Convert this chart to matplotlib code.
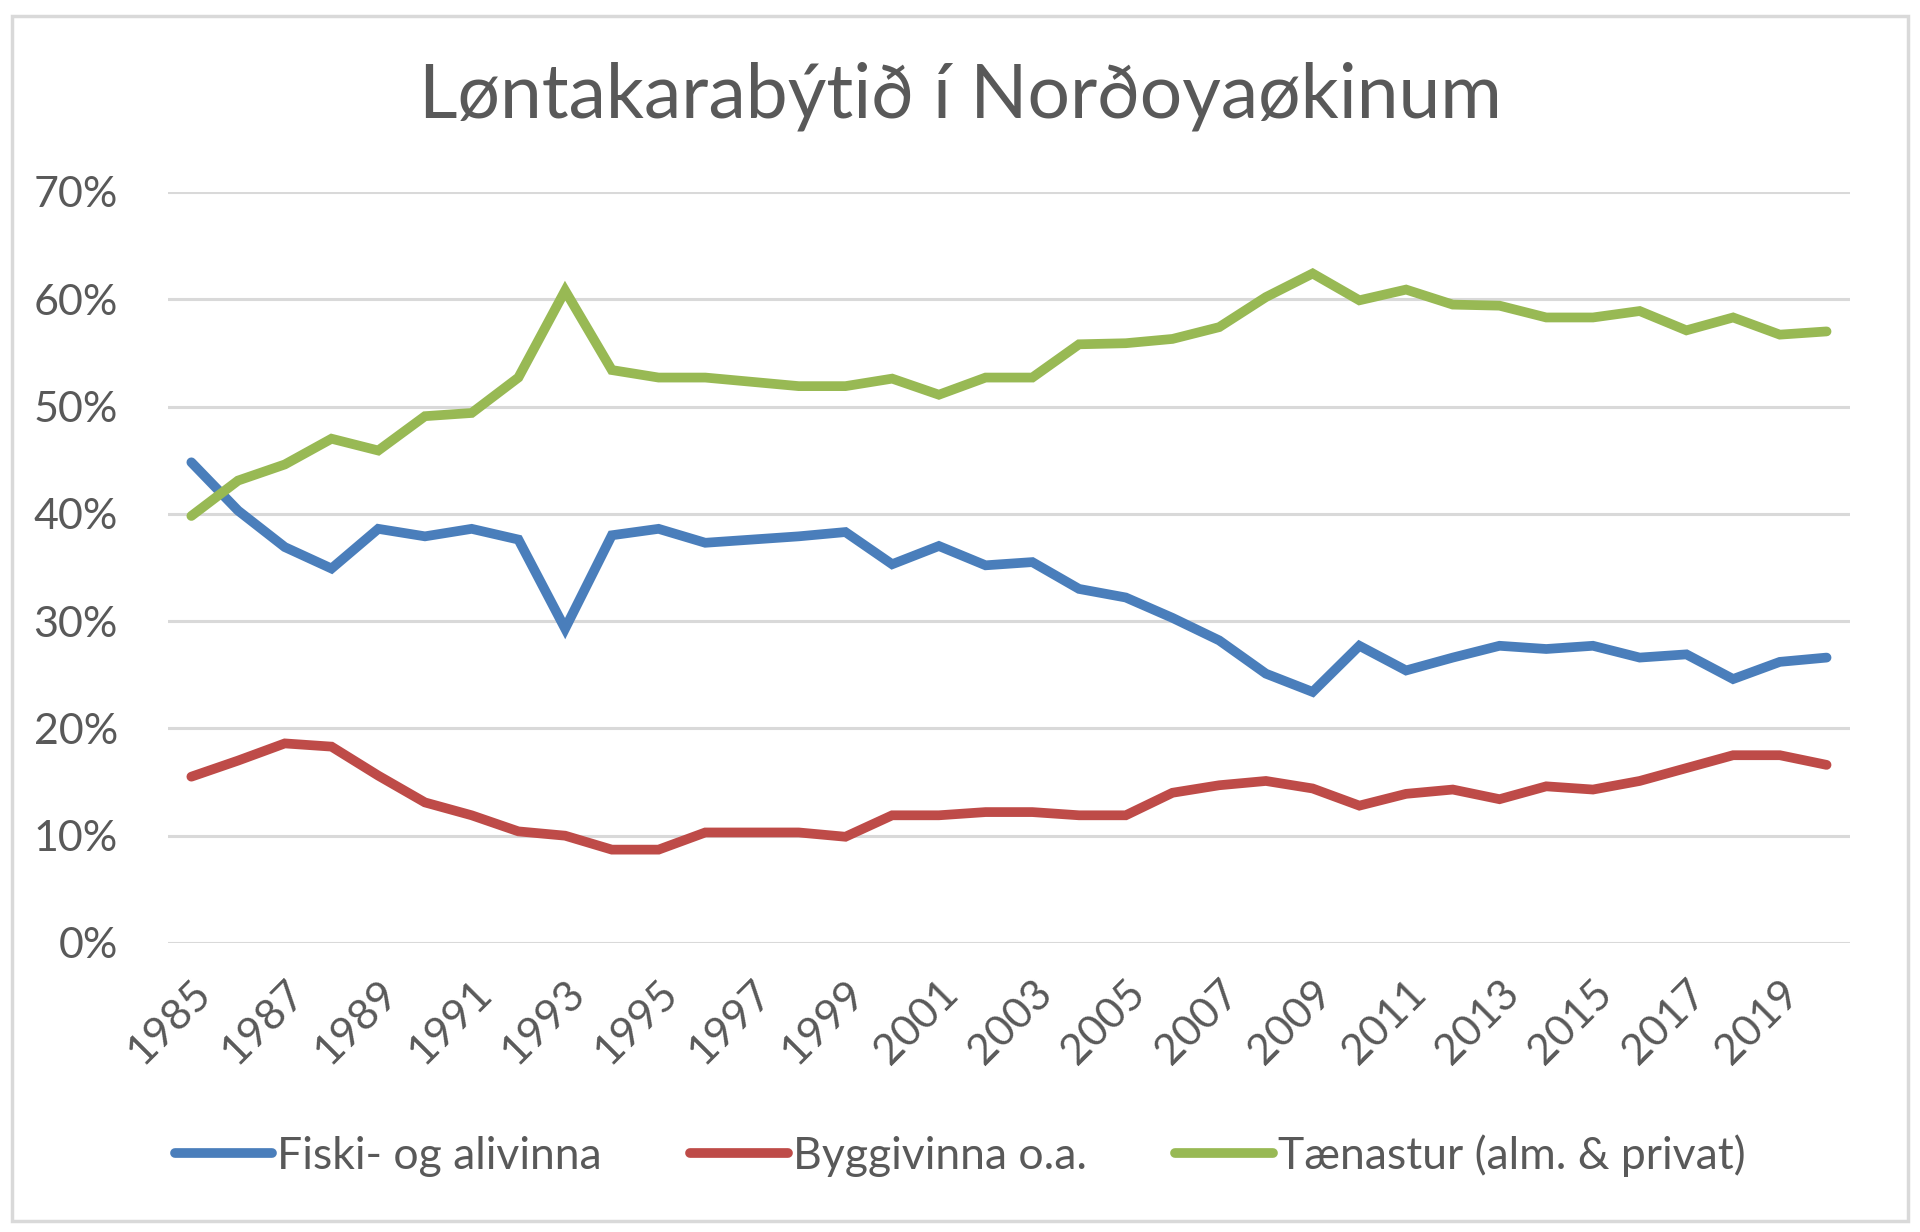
import matplotlib
matplotlib.use("Agg")
import matplotlib.pyplot as plt
from matplotlib.patches import Rectangle
from matplotlib.ticker import PercentFormatter

# Data (share of wage earners, %)
years = list(range(1985, 2021))

fiski = [44.8, 40.3, 36.9, 34.9, 38.6, 37.9, 38.6, 37.6, 29.3, 38.0,
         38.6, 37.3, 37.6, 37.9, 38.3, 35.3, 37.0, 35.2, 35.5, 33.0,
         32.2, 30.3, 28.2, 25.1, 23.4, 27.7, 25.4, 26.6, 27.7, 27.4,
         27.7, 26.6, 26.9, 24.6, 26.2, 26.6]

byggi = [15.5, 17.0, 18.6, 18.3, 15.6, 13.1, 11.9, 10.4, 10.0, 8.7,
         8.7, 10.3, 10.3, 10.3, 9.9, 11.9, 11.9, 12.2, 12.2, 11.9,
         11.9, 14.0, 14.7, 15.1, 14.4, 12.8, 13.9, 14.3, 13.4, 14.6,
         14.3, 15.1, 16.3, 17.5, 17.5, 16.6]

taenastur = [39.8, 43.1, 44.6, 47.0, 45.9, 49.1, 49.4, 52.7, 60.8, 53.4,
             52.7, 52.7, 52.3, 51.9, 51.9, 52.6, 51.1, 52.7, 52.7, 55.8,
             55.9, 56.3, 57.4, 60.2, 62.4, 59.9, 60.9, 59.5, 59.4, 58.3,
             58.3, 58.9, 57.1, 58.3, 56.7, 57.0]

labels = ["Fiski- og alivinna", "Byggivinna o.a.", "Tænastur (alm. & privat)"]
colors = ["#4a7ebb", "#be4b48", "#98b954"]

plt.rcParams['font.family'] = ['Lato', 'DejaVu Sans']
text_col = "#595959"

fig = plt.figure(figsize=(19.2, 12.32), dpi=100)
fig.patches.append(Rectangle((0.006, 0.009), 0.988, 0.978, transform=fig.transFigure,
                             fill=False, edgecolor="#d9d9d9", linewidth=2.5))

ax = fig.add_axes([0.0875, 0.2346, 0.876, 0.6096])

for series, lab, col in zip([fiski, byggi, taenastur], labels, colors):
    ax.plot(years, series, color=col, linewidth=7, label=lab,
            solid_joinstyle='miter', solid_capstyle='round')

ax.set_xlim(1984.5, 2020.5)
ax.set_ylim(0, 70)
ax.set_yticks(range(0, 71, 10))
ax.yaxis.set_major_formatter(PercentFormatter(decimals=0))
ax.set_xticks(years[::2])
ax.set_xticklabels([str(y) for y in years[::2]], rotation=45, ha='right',
                   rotation_mode='anchor')

ax.grid(axis='y', color="#d9d9d9", linewidth=2.2)
ax.set_axisbelow(True)
for s in ax.spines.values():
    s.set_visible(False)
ax.tick_params(length=0, labelsize=31, colors=text_col)
ax.tick_params(axis='y', pad=36)
ax.tick_params(axis='x', pad=22)

fig.suptitle("Løntakarabýtið í Norðoyaøkinum", y=0.95, fontsize=54, color=text_col)

fig.legend(loc='center', bbox_to_anchor=(0.5, 0.062), ncol=3, frameon=False,
           fontsize=32, handlelength=2.2, handletextpad=0.1, columnspacing=2.0,
           labelcolor=text_col)

fig.savefig("out.png", dpi=100)
